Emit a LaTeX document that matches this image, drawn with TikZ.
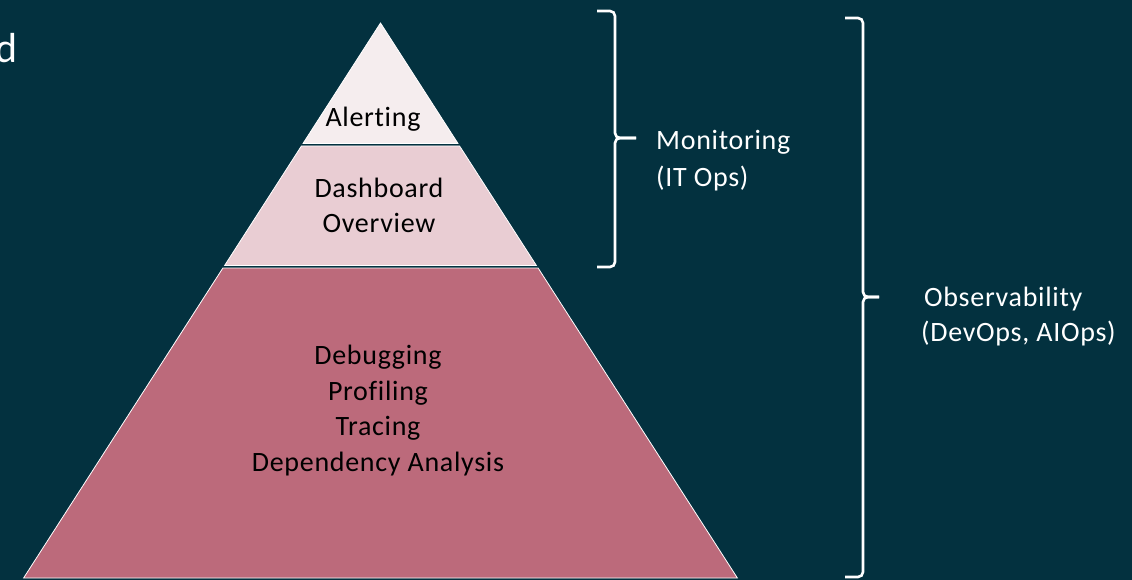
\documentclass[tikz,border=0pt]{standalone}
\usepackage{fontspec}
\setmainfont{Carlito}[LetterSpace=2.5, Ligatures={NoCommon}]
\definecolor{bg}{HTML}{03313F}
\definecolor{layA}{HTML}{F5EDEE}
\definecolor{layB}{HTML}{E9CDD3}
\definecolor{layC}{HTML}{BC6A7B}
\begin{document}
\begin{tikzpicture}[x=1pt,y=-1pt,
  layer/.style={draw=white, line width=0.8pt},
  brace/.style={draw=white, line width=2.6pt, rounded corners=5pt},
  lbl/.style={font=\fontsize{28}{36}\selectfont, text=black, inner sep=0pt, anchor=base},
  side/.style={font=\fontsize{28}{36}\selectfont, text=white, inner sep=0pt, anchor=base west}]
\fill[bg] (0,0) rectangle (1132,580);
\useasboundingbox (0,0) rectangle (1132,580);
% pyramid layers
\path[layer, fill=layA] (380.5,23) -- (458,143.5) -- (303,143.5) -- cycle;
\path[layer, fill=layB] (301.4,146) -- (459.6,146) -- (536.4,265.5) -- (224.6,265.5) -- cycle;
\path[layer, fill=layC] (222.9,268) -- (538.1,268) -- (737.4,578) -- (23.6,578) -- cycle;
% labels in layers
\node[lbl] (alert) at (373,127) {Alerting};
\node[lbl] (dash) at (379,197) {Dashboard};
\node[lbl] (over) at (379,232.5) {Overview};
\node[lbl] (debug) at (378,364.5) {Debugging};
\node[lbl] (prof) at (378,400.2) {Profiling};
\node[lbl] (trace) at (378,435.9) {Tracing};
\node[lbl] (dep) at (378,471.6) {Dependency Analysis};
% braces
\coordinate (m1) at (597,11);
\coordinate (m2) at (615,11);
\coordinate (m3) at (615,138);
\coordinate (m4) at (636,138);
\coordinate (m5) at (615,267);
\coordinate (m6) at (597,267);
\draw[brace] (m1) -- (m2) -- (m3) -- (m4);
\draw[brace] (m4) -- (m3) -- (m5) -- (m6);
\coordinate (o1) at (845,18);
\coordinate (o2) at (863,18);
\coordinate (o3) at (863,297);
\coordinate (o4) at (879,297);
\coordinate (o5) at (863,577);
\coordinate (o6) at (845,577);
\draw[brace] (o1) -- (o2) -- (o3) -- (o4);
\draw[brace] (o4) -- (o3) -- (o5) -- (o6);
% side labels
\node[side] (mon) at (656,150) {Monitoring};
\node[side] (itops) at (656,186) {(IT Ops)};
\node[side] (obs) at (924,306) {Observability};
\node[side] (devops) at (921,341) {(DevOps, AIOps)};
% cut-off text at left
\node[font=\fontsize{42}{48}\selectfont, text=white, inner sep=0pt, anchor=base east] (dd) at (18,63) {d};
\end{tikzpicture}
\end{document}
